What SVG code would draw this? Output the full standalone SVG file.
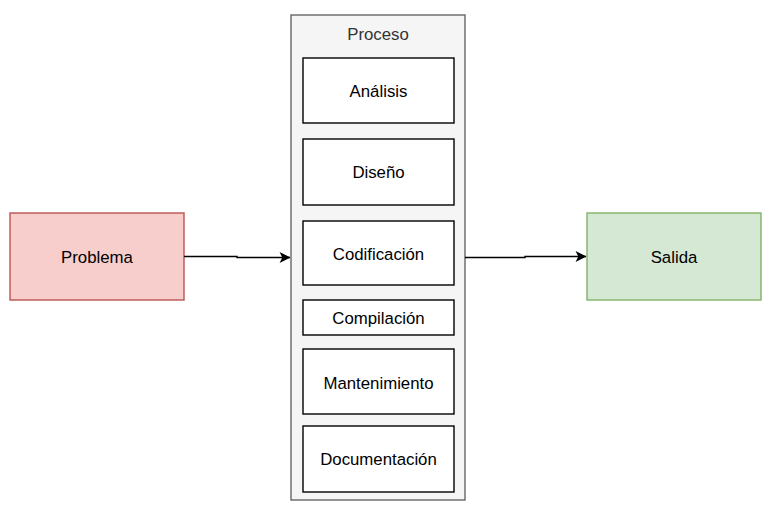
<svg xmlns="http://www.w3.org/2000/svg" width="769" height="509" viewBox="0 0 769 509">
<style>
text{font-family:"Liberation Sans",Arial,sans-serif;font-size:16.8px;text-anchor:middle;dominant-baseline:central;fill:#000}
.step{fill:#fff;stroke:#000;stroke-width:1.4}
.edge{fill:none;stroke:#000;stroke-width:1.4}
</style>
<defs>
<marker id="arr" viewBox="0 0 10 10" refX="9.5" refY="5" markerWidth="12" markerHeight="11" markerUnits="userSpaceOnUse" orient="auto">
<path d="M0,0 L10,5 L0,10 L2.5,5 Z" fill="#000"/>
</marker>
</defs>
<g id="proceso">
<rect x="291" y="15" width="174" height="485" fill="#f5f5f5" stroke="#666666" stroke-width="1.4"/>
<text x="378" y="34" style="fill:#333333">Proceso</text>
</g>
<g id="analisis"><rect class="step" x="303" y="58" width="151" height="65"/><text x="378.5" y="91">Análisis</text></g>
<g id="diseno"><rect class="step" x="303" y="139" width="151" height="66"/><text x="378.5" y="172">Diseño</text></g>
<g id="codificacion"><rect class="step" x="303" y="221" width="151" height="64"/><text x="378.5" y="254">Codificación</text></g>
<g id="compilacion"><rect class="step" x="303" y="300" width="151" height="35"/><text x="378.5" y="318">Compilación</text></g>
<g id="mantenimiento"><rect class="step" x="303" y="349" width="151" height="65"/><text x="378.5" y="383">Mantenimiento</text></g>
<g id="documentacion"><rect class="step" x="303" y="426" width="151" height="66"/><text x="378.5" y="459">Documentación</text></g>
<g id="problema"><rect x="10" y="213" width="174" height="87" fill="#f8cecc" stroke="#b85450" stroke-width="1.4"/><text x="97" y="257">Problema</text></g>
<g id="salida"><rect x="587" y="213" width="174" height="87" fill="#d5e8d4" stroke="#82b366" stroke-width="1.4"/><text x="674" y="257">Salida</text></g>
<g id="connectors">
<path class="edge" d="M184,256.5 L237,256.5 L237,257.5 L290,257.5" marker-end="url(#arr)"/>
<path class="edge" d="M465,257.5 L525,257.5 L525,256.5 L586,256.5" marker-end="url(#arr)"/>
</g>
</svg>
